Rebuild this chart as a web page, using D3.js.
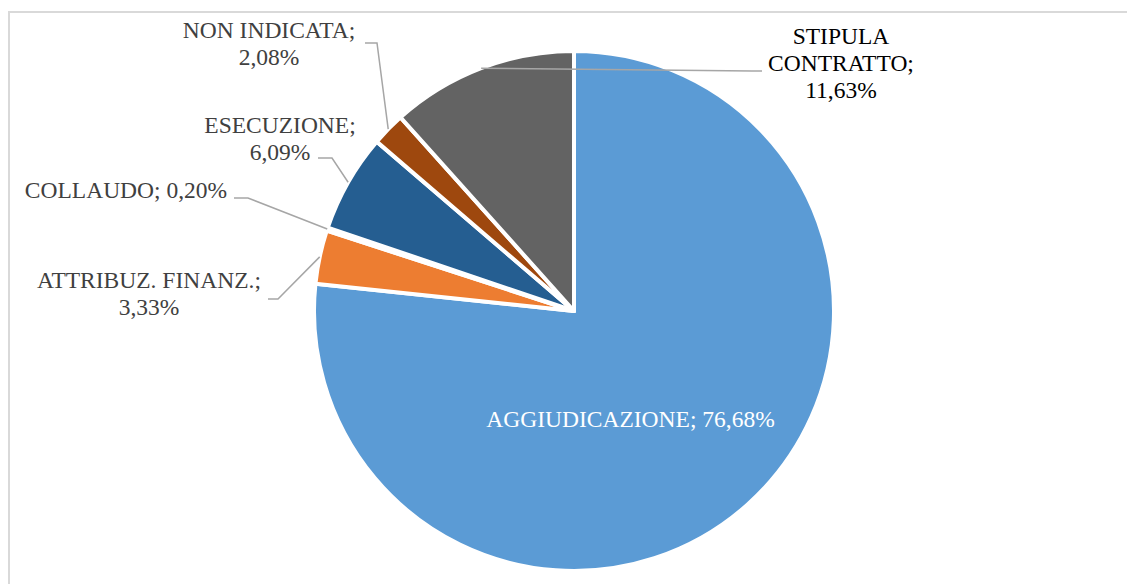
<!DOCTYPE html>
<html>
<head>
<meta charset="utf-8">
<script src="https://cdn.jsdelivr.net/npm/d3@7"></script>
<style>
  html, body { margin: 0; padding: 0; background: #fff; }
  svg { display: block; }
</style>
</head>
<body>
<svg id="chart" width="1127" height="584"></svg>
<script>
// ---- data ----
const categories = ["AGGIUDICAZIONE", "ATTRIBUZ. FINANZ.", "COLLAUDO", "ESECUZIONE", "NON INDICATA", "STIPULA CONTRATTO"];
const values = [76.68, 3.33, 0.20, 6.09, 2.08, 11.63];
const valueLabels = ["76,68%", "3,33%", "0,20%", "6,09%", "2,08%", "11,63%"];
const colors = ["#5B9BD5", "#ED7D31", "#A5A5A5", "#255E91", "#9E480E", "#636363"];

// label text lines (as laid out in the reference)
const labelLines = [
  ["AGGIUDICAZIONE; 76,68%"],
  ["ATTRIBUZ. FINANZ.;", "3,33%"],
  ["COLLAUDO; 0,20%"],
  ["ESECUZIONE;", "6,09%"],
  ["NON INDICATA;", "2,08%"],
  ["STIPULA", "CONTRATTO;", "11,63%"]
];

// ---- layout (label placement) ----
const W = 1127, H = 584;
const cx = 574, cy = 311, R = 260;
const fontSize = 23.5, lineH = 27;
const fontFamily = "'Liberation Serif', 'Times New Roman', 'DejaVu Serif', serif";
// text block center x, first baseline y, leader start, leader elbow
const labelLayout = [
  { x: 630.5, y: 427, inside: true },
  { x: 149, y: 288, start: [268, 299], elbow: [278, 299] },
  { x: 126, y: 198, start: [234, 198], elbow: [248, 198] },
  { x: 280, y: 133, start: [318, 158], elbow: [332, 158] },
  { x: 269, y: 38,  start: [365, 43],  elbow: [377, 43] },
  { x: 841, y: 44,  start: [762, 71],  elbow: [752, 71] }
];
const textColors = ["#FFFFFF", "#404040", "#404040", "#404040", "#404040", "#000000"];

const svg = d3.select("#chart");

// chart frame
svg.append("rect")
  .attr("x", 9).attr("y", 12)
  .attr("width", W + 20).attr("height", H + 20)
  .attr("fill", "#fff")
  .attr("stroke", "#D9D9D9")
  .attr("stroke-width", 2);

const pie = d3.pie().sort(null).value(d => d).startAngle(0).endAngle(2 * Math.PI);
const arcs = pie(values);
const arc = d3.arc().innerRadius(0).outerRadius(R);
const edgeArc = d3.arc().innerRadius(R).outerRadius(R);

const g = svg.append("g").attr("transform", `translate(${cx},${cy})`);

g.selectAll("path.slice")
  .data(arcs)
  .enter().append("path")
  .attr("class", "slice")
  .attr("d", arc)
  .attr("fill", (d, i) => colors[i])
  .attr("stroke", "#fff")
  .attr("stroke-width", 4)
  .attr("stroke-linejoin", "round");

// leader lines
const leaders = svg.append("g");
arcs.forEach((d, i) => {
  const L = labelLayout[i];
  if (L.inside) return;
  const c = edgeArc.centroid(d);
  const end = [cx + c[0], cy + c[1]];
  leaders.append("polyline")
    .attr("points", [L.start, L.elbow, end].map(p => p.join(",")).join(" "))
    .attr("fill", "none")
    .attr("stroke", "#A6A6A6")
    .attr("stroke-width", 1.5);
});

// labels
const labels = svg.append("g");
arcs.forEach((d, i) => {
  const L = labelLayout[i];
  const t = labels.append("text")
    .attr("text-anchor", "middle")
    .attr("font-family", fontFamily)
    .attr("font-size", fontSize)
    .attr("fill", textColors[i]);
  labelLines[i].forEach((line, j) => {
    t.append("tspan")
      .attr("x", L.x)
      .attr("y", L.y + j * lineH)
      .text(line);
  });
});
</script>
</body>
</html>
